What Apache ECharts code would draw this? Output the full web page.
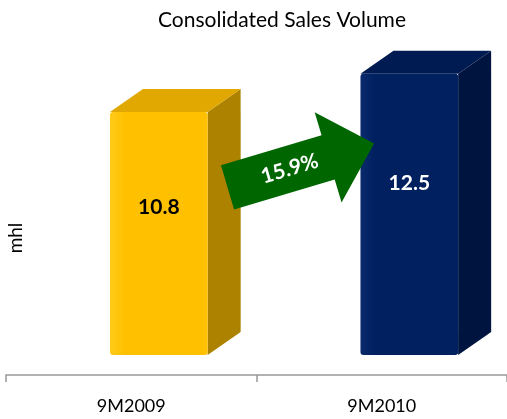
<!DOCTYPE html>
<html>
<head>
<meta charset="utf-8">
<script src="https://cdn.jsdelivr.net/npm/echarts@6/dist/echarts.min.js"></script>
<style>
  html, body { margin: 0; padding: 0; background: #fff; }
  #chart { width: 507px; height: 419px; }
</style>
</head>
<body>
<div id="chart"></div>
<script>
  // data
  var categories = ['9M2009', '9M2010'];
  var volumes = [10.8, 12.5];
  var growthLabel = '15.9%';
  var axisName = 'mhl';

  // face colours per bar: front, side, top
  var palette = [
    { front: '#FFC000', light: '#FFCB1A', side: '#AD8200', top: '#E0A800', text: '#000' },
    { front: '#002060', light: '#0A2A6C', side: '#001440', top: '#001A52', text: '#fff' }
  ];

  var font = 'Lato, "Open Sans", sans-serif';
  var chart = echarts.init(document.getElementById('chart'));

  function renderBox(params, api) {
    var idx = api.value(0);
    var val = api.value(1);
    var top = api.coord([idx, val]);
    var base = api.coord([idx, 0]);
    var bandW = api.size([1, 0])[0];
    var w = bandW * 0.39;
    var shift = bandW * 0.11;
    var x0 = top[0] + shift - w / 2;
    var x1 = x0 + w;
    var yT = top[1], yB = base[1];
    var dx = 33, dy = 23;
    var c = palette[params.dataIndex];
    return {
      type: 'group',
      children: [
        {
          type: 'polygon',
          shape: { points: [[x1, yT], [x1 + dx, yT - dy], [x1 + dx, yB - dy], [x1, yB]] },
          style: { fill: c.side }
        },
        {
          type: 'polygon',
          shape: { points: [[x0, yT], [x0 + dx, yT - dy], [x1 + dx, yT - dy], [x1, yT]] },
          style: { fill: c.top }
        },
        {
          type: 'rect',
          shape: { x: x0, y: yT, width: w, height: yB - yT, r: 3 },
          style: {
            fill: new echarts.graphic.LinearGradient(0, 0, 1, 0, [
              { offset: 0, color: c.light },
              { offset: 0.15, color: c.front },
              { offset: 1, color: c.front }
            ])
          }
        },
        {
          type: 'text',
          x: x0 + w / 2,
          y: yB - (yB - yT) * 0.61,
          style: {
            text: api.value(1).toFixed(1),
            fill: c.text,
            font: 'bold 21px ' + font,
            align: 'center',
            verticalAlign: 'middle'
          }
        }
      ]
    };
  }

  chart.setOption({
    animation: false,
    title: {
      text: 'Consolidated Sales Volume',
      left: 153,
      top: 5,
      textStyle: { fontFamily: font, fontWeight: 'normal', fontSize: 21, color: '#000' }
    },
    grid: { left: 6, right: 0, top: 40, bottom: 64 },
    xAxis: {
      type: 'category',
      data: categories,
      offset: 20,
      axisLine: { show: true, onZero: false, lineStyle: { color: '#999', width: 1.5 } },
      axisTick: { show: true, alignWithLabel: false, interval: 0, length: 7, lineStyle: { color: '#999', width: 1.5 } },
      axisLabel: { margin: 22, fontFamily: font, fontSize: 18, color: '#000' }
    },
    yAxis: {
      type: 'value',
      min: 0,
      max: 14,
      show: false
    },
    series: [{
      type: 'custom',
      renderItem: renderBox,
      data: volumes.map(function (v, i) { return [i, v]; })
    }]
  });

  // growth arrow placed between the two bars
  var mid = chart.convertToPixel({ gridIndex: 0 }, [0.5, 7.45]);
  var c0 = chart.convertToPixel({ gridIndex: 0 }, [0, 0]);
  var c1 = chart.convertToPixel({ gridIndex: 0 }, [1, 0]);
  var tailX = (c0[0] + c1[0]) / 2 - 29;

  chart.setOption({
    graphic: [
      {
        type: 'group',
        x: tailX,
        y: mid[1],
        z: 100,
        rotation: 0.29,
        children: [
          {
            type: 'polygon',
            z: 100,
            shape: { points: [[0, -23], [105, -23], [105, -47], [153, 0], [105, 47], [105, 23], [0, 23]] },
            style: { fill: '#006600' }
          },
          {
            type: 'text',
            z: 101,
            x: 65,
            y: 0,
            style: {
              text: growthLabel,
              fill: '#fff',
              font: 'bold 21px ' + font,
              align: 'center',
              verticalAlign: 'middle'
            }
          }
        ]
      },
      {
        type: 'text',
        x: 16,
        y: 238,
        rotation: Math.PI / 2,
        style: {
          text: axisName,
          fill: '#000',
          font: '19px ' + font,
          align: 'center',
          verticalAlign: 'middle'
        }
      }
    ]
  });
</script>
</body>
</html>
